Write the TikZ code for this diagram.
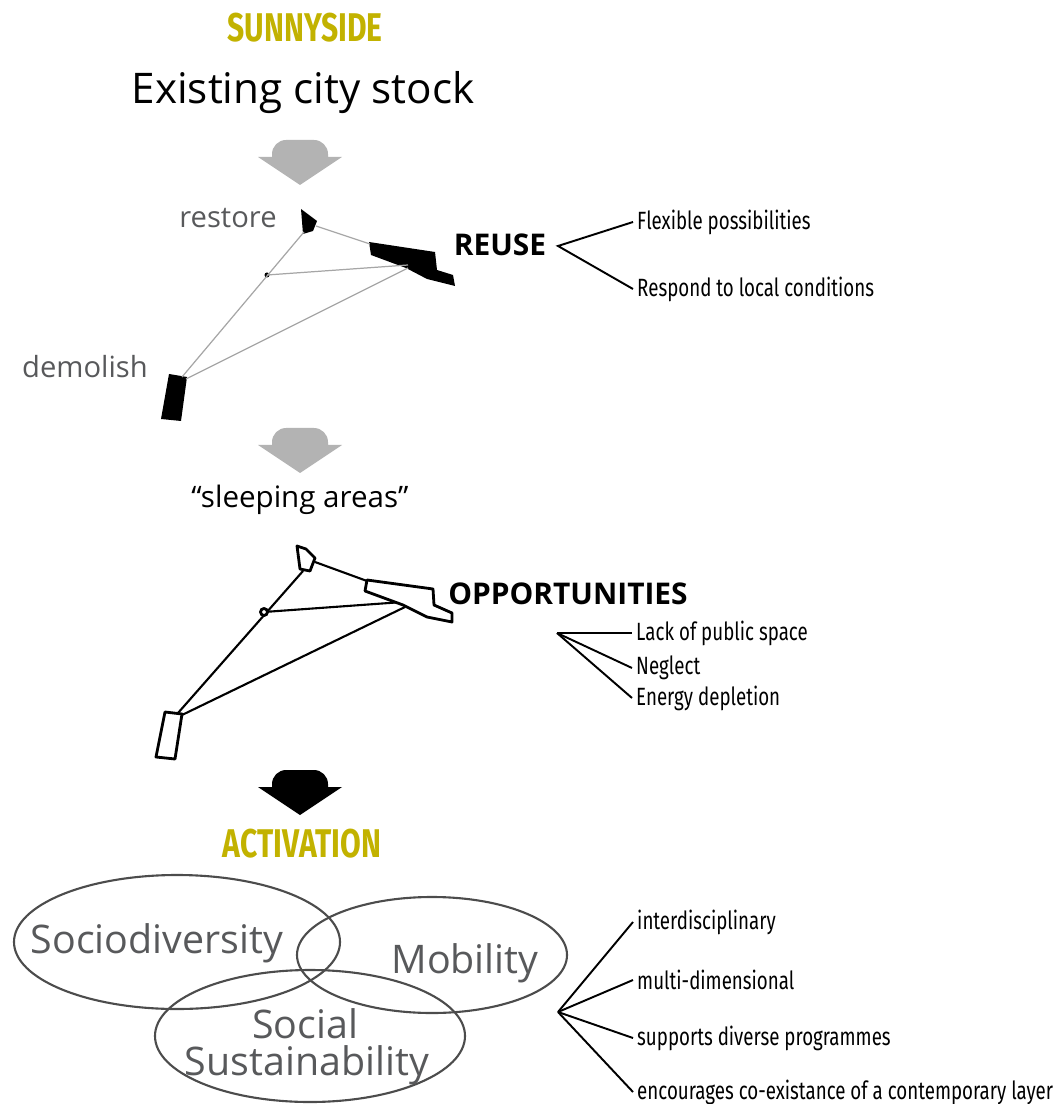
\documentclass[tikz,border=0pt]{standalone}
\usepackage{fontspec}
\setmainfont{Open Sans}
\newfontfamily\condfont[FakeStretch=0.75]{Fira Sans}
\usetikzlibrary{positioning}
\definecolor{sunnyyellow}{HTML}{C2B200}
\definecolor{labelgray}{HTML}{58595B}
\definecolor{arrowgray}{HTML}{B3B3B3}
\tikzset{
  heading/.style={font=\condfont\bfseries\fontsize{11.4}{12}\selectfont,text=sunnyyellow},
  keyword/.style={font=\bfseries\fontsize{8.5}{10}\selectfont},
  softlabel/.style={font=\fontsize{8.3}{10}\selectfont,text=labelgray},
  item/.style={font=\condfont\fontsize{7.1}{8}\selectfont,anchor=west,inner sep=1pt},
  bigword/.style={font=\fontsize{11.2}{12}\selectfont,text=labelgray,inner sep=0pt},
  branch/.style={line width=0.55pt},
  thinlink/.style={line width=0.35pt,draw=black!35},
  darklink/.style={line width=0.6pt},
  block/.style={fill=black},
  outline/.style={draw=black,line width=0.8pt,fill=white,line join=round},
  ring/.style={draw=black!70,line width=0.6pt},
  bigarrow/.pic={
    \path[pic actions] (-42,17) -- (-28,17) {[rounded corners=4pt] -- (-28,0) -- (28,0)} -- (28,17) -- (42,17) -- (0,45) -- cycle;
  }
}
\begin{document}
\begin{tikzpicture}[x=0.01cm,y=-0.01cm]
\useasboundingbox (0,0) rectangle (1063,1104);
% titles and arrows
\node[heading] (sunnyside) at (305,28) {SUNNYSIDE};
\node[font=\fontsize{12}{14}\selectfont] (stock) at (303,93) {Existing city stock};
\pic[fill=arrowgray] at (300,140) {bigarrow};
\node[softlabel] (restore) at (228,218) {restore};
\node[softlabel] (demolish) at (85,367) {demolish};
\node[keyword] (reuse) at (500,245) {REUSE};
% solid blocks
\fill[block] (301,209) -- (317,221) -- (313,231) -- (303,234) -- cycle;
\fill[block] (369,242) -- (435,252) -- (437,270) -- (453,275) -- (455,286) -- (427,279) -- (406,268) -- (371,255) -- cycle;
\fill[block] (169,374) -- (187,377) -- (181,421) -- (161,419) -- cycle;
\fill[block] (267,275) circle (2.5);
\coordinate (t1) at (304,232); \coordinate (t2) at (316,226);
\coordinate (t3) at (370,244); \coordinate (t4) at (408,265);
\coordinate (t5) at (408,268); \coordinate (t6) at (182,377);
\coordinate (t7) at (186,379); \coordinate (tdot) at (267,275);
\draw[thinlink] (t1) -- (t6);
\draw[thinlink] (t2) -- (t3);
\draw[thinlink] (tdot) -- (t4);
\draw[thinlink] (t7) -- (t5);
\coordinate (reusefork) at (558,246);
\node[item] (flex) at (633,222) {Flexible possibilities};
\node[item] (respond) at (633,289) {Respond to local conditions};
\draw[branch] (flex.west) -- (reusefork) -- (respond.west);
\pic[fill=arrowgray] at (300,428) {bigarrow};
\node[font=\fontsize{8.4}{10}\selectfont] (sleeping) at (300,500) {“sleeping areas”};
% outlined blocks
\coordinate (b1) at (303,571); \coordinate (b2) at (315,562);
\coordinate (b3) at (367,581); \coordinate (b4) at (403,602);
\coordinate (b5) at (405,607); \coordinate (b6) at (178,713);
\coordinate (b7) at (182,715); \coordinate (bdot) at (264,612);
\draw[darklink] (b1) -- (b6);
\draw[darklink] (b2) -- (b3);
\draw[darklink] (bdot) -- (b4);
\draw[darklink] (b7) -- (b5);
\draw[outline] (297,546) -- (306,549) -- (315,558) -- (310,571) -- (300,569) -- cycle;
\draw[outline] (367,580) -- (433,589) -- (434,605) -- (452,613) -- (452,622) -- (427,617) -- (403,605) -- (365,591) -- cycle;
\draw[outline] (165,712) -- (182,714) -- (175,759) -- (156,757) -- cycle;
\draw[outline] (bdot) circle (3.5);
\node[keyword] (opportunities) at (568,594) {OPPORTUNITIES};
\coordinate (oppfork) at (557,633);
\node[item] (lack) at (632,633) {Lack of public space};
\node[item] (neglect) at (632,668) {Neglect};
\node[item] (energy) at (632,698) {Energy depletion};
\draw[branch] (oppfork) -- (lack.west);
\draw[branch] (oppfork) -- (neglect.west);
\draw[branch] (oppfork) -- (energy.west);
\pic[fill=black] at (300,770) {bigarrow};
\node[heading] (activation) at (302,844) {ACTIVATION};
% overlapping rings
\draw[ring] (177,942) ellipse [x radius=163, y radius=67];
\draw[ring] (432,955) ellipse [x radius=135, y radius=58];
\draw[ring] (310,1036) ellipse [x radius=155, y radius=66];
\node[bigword] (socio) at (157,943) {Sociodiversity};
\node[bigword] (mobility) at (465,963) {Mobility};
\node[bigword,anchor=base] (social) at (305,1038) {Social};
\node[bigword,anchor=base] (sustain) at (307,1075) {Sustainability};
\coordinate (actfork) at (558,1012);
\node[item] (inter) at (633,922) {interdisciplinary};
\node[item] (multi) at (633,980) {multi-dimensional};
\node[item] (supports) at (633,1038) {supports diverse programmes};
\node[item] (encourages) at (633,1092) {encourages co-existance of a contemporary layer};
\foreach \target in {inter,multi,supports,encourages}
  \draw[branch] (actfork) -- (\target.west);
\end{tikzpicture}
\end{document}
